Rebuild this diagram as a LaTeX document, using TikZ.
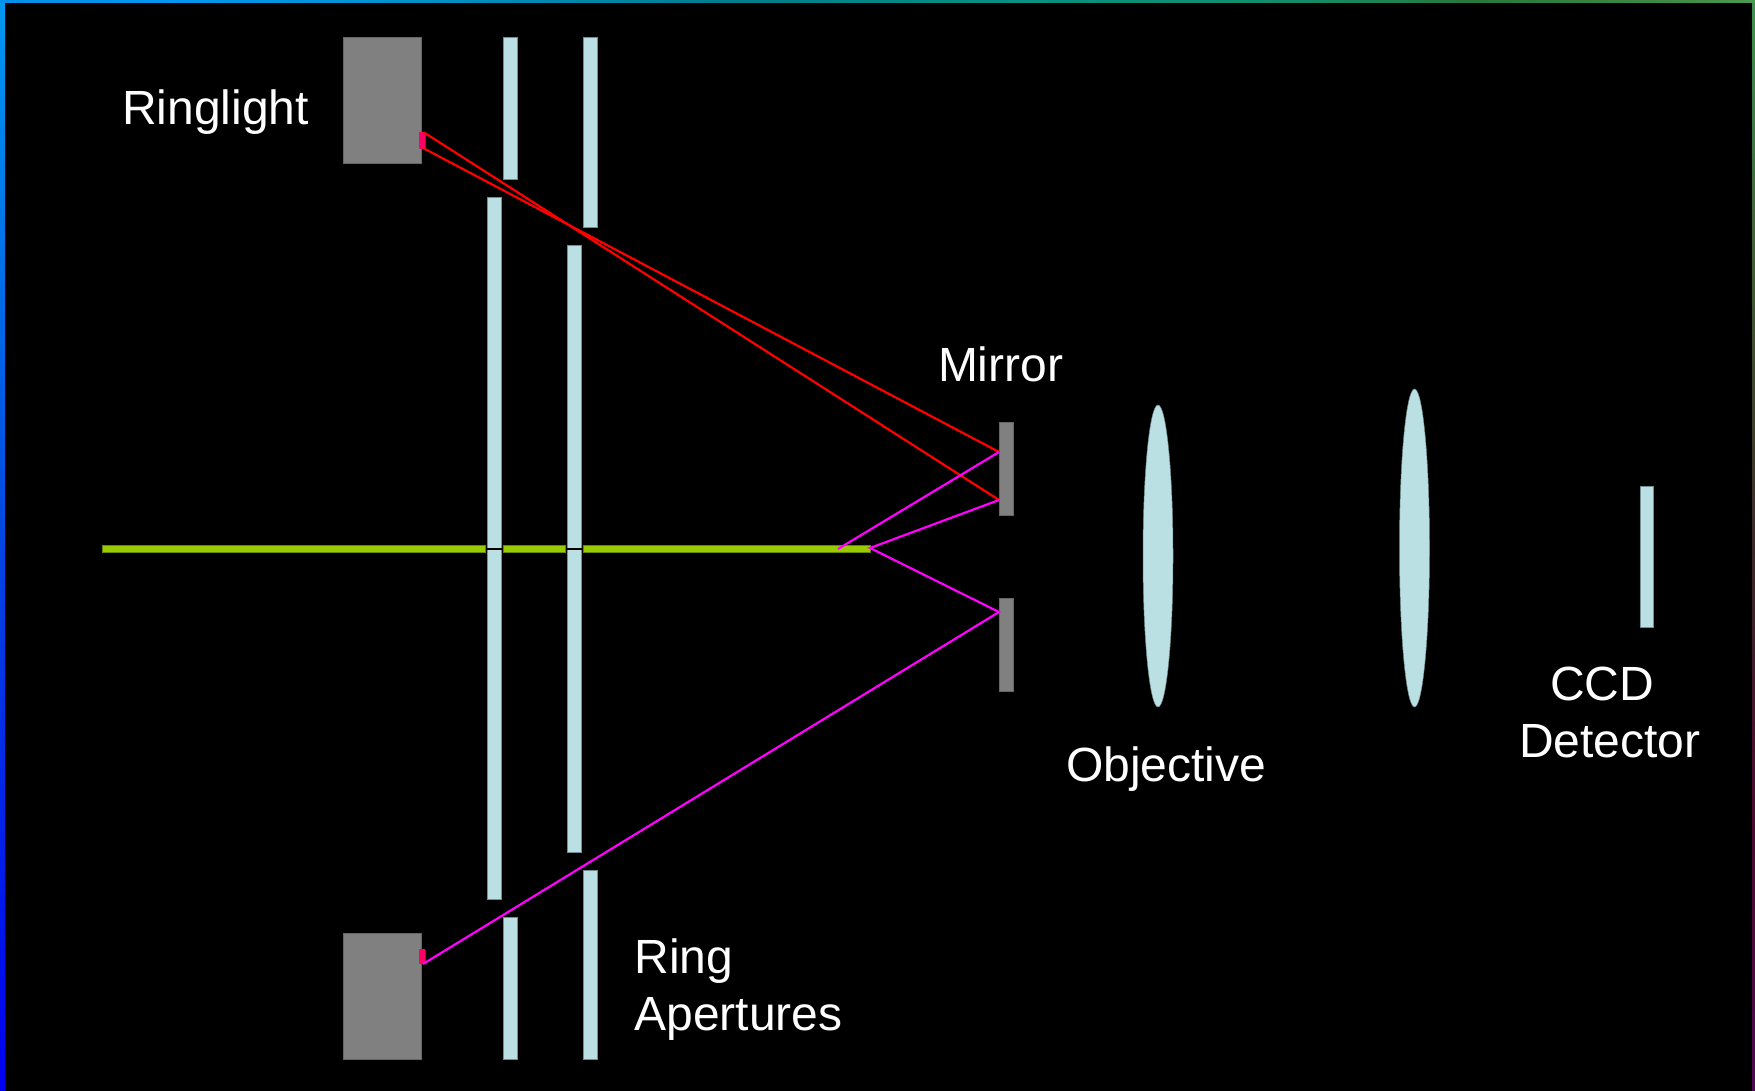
\documentclass[tikz,border=0pt]{standalone}
\usepackage{fontspec}
\setmainfont{Liberation Sans}
\definecolor{barfill}{HTML}{BBE0E3}
\definecolor{baredge}{HTML}{6F8F92}
\definecolor{greyfill}{HTML}{808080}
\definecolor{greyedge}{HTML}{666666}
\definecolor{beamgreen}{HTML}{99CC00}
\definecolor{beamedge}{HTML}{668800}
\definecolor{emitter}{HTML}{FF0066}
\definecolor{raypink}{HTML}{FF00FF}
\definecolor{rayred}{HTML}{FF0000}
\pgfdeclarehorizontalshading{topedge}{100bp}{
 color(0bp)=(rgb,255:red,4;green,143;blue,232);
 color(25bp)=(rgb,255:red,4;green,143;blue,232);
 color(30bp)=(rgb,255:red,0;green,152;blue,240);
 color(37bp)=(rgb,255:red,0;green,144;blue,200);
 color(46bp)=(rgb,255:red,0;green,125;blue,140);
 color(54bp)=(rgb,255:red,10;green,145;blue,130);
 color(62bp)=(rgb,255:red,20;green,140;blue,105);
 color(67bp)=(rgb,255:red,40;green,120;blue,60);
 color(73bp)=(rgb,255:red,65;green,140;blue,70);
 color(75bp)=(rgb,255:red,75;green,155;blue,80);
 color(100bp)=(rgb,255:red,75;green,155;blue,80)}
\pgfdeclareverticalshading{leftedge}{100bp}{
 color(0bp)=(rgb,255:red,0;green,0;blue,240);
 color(25bp)=(rgb,255:red,0;green,0;blue,240);
 color(50bp)=(rgb,255:red,0;green,70;blue,225);
 color(75bp)=(rgb,255:red,0;green,152;blue,240);
 color(100bp)=(rgb,255:red,0;green,152;blue,240)}
\pgfdeclareverticalshading{rightedge}{100bp}{
 color(0bp)=(rgb,255:red,80;green,10;blue,80);
 color(25bp)=(rgb,255:red,80;green,10;blue,80);
 color(37bp)=(rgb,255:red,75;green,10;blue,50);
 color(50bp)=(rgb,255:red,60;green,40;blue,40);
 color(62bp)=(rgb,255:red,65;green,90;blue,48);
 color(75bp)=(rgb,255:red,65;green,145;blue,80);
 color(100bp)=(rgb,255:red,65;green,145;blue,80)}
\tikzset{
  aperture/.style={fill=barfill,draw=baredge,line width=0.8pt},
  housing/.style={fill=greyfill,draw=greyedge,line width=0.8pt},
  beam/.style={fill=beamgreen,draw=beamedge,line width=0.6pt},
  source/.style={fill=emitter,draw=none,rounded corners=0.8pt},
  redray/.style={draw=rayred,line width=2.2pt},
  pinkray/.style={draw=raypink,line width=2.2pt},
  slit/.style={draw=black,line width=2pt},
  label/.style={text=white,font=\fontsize{48}{48}\selectfont,anchor=base west,inner sep=0pt,outer sep=0pt}
}
\begin{document}
\begin{tikzpicture}[x=1pt,y=-1pt]
\useasboundingbox (0,0) rectangle (1755,1091);
\fill[black] (0,0) rectangle (1755,1091);
% window edge
\path[shading=leftedge] (0,0) rectangle (5,1091);
\path[shading=rightedge] (1752,0) rectangle (1755,1091);
\path[shading=topedge] (0,0) rectangle (1755,3);
% ringlight housings
\path[housing] (343,37) rectangle (421,163);
\path[housing] (343,933) rectangle (421,1059);
% ring apertures
\path[aperture] (503,37) rectangle (517,179);
\path[aperture] (583,37) rectangle (597,227);
\path[aperture] (487.5,197) rectangle (501,899);
\path[aperture] (567.5,245) rectangle (581,852);
\path[aperture] (583,870) rectangle (597,1059);
\path[aperture] (503,917) rectangle (517,1059);
% mirror
\path[housing] (999.5,422) rectangle (1013,515);
\path[housing] (999.5,598) rectangle (1013,691);
% lenses and detector
\path[aperture,line width=0.5pt] (1158,556) ellipse [x radius=15,y radius=151];
\path[aperture,line width=0.5pt] (1414.5,548) ellipse [x radius=15,y radius=159];
\path[aperture] (1640,486) rectangle (1653,627);
% central beam
\coordinate (slitA1) at (485,548.5);
\coordinate (slitA2) at (503,548.5);
\coordinate (slitB1) at (566,548.5);
\coordinate (slitB2) at (583,548.5);
\draw[slit] (slitA1) -- (slitA2);
\draw[slit] (slitB1) -- (slitB2);
\path[beam] (102,545) rectangle (485.5,552);
\path[beam] (503.5,545) rectangle (565.5,552);
\path[beam] (583.5,545) rectangle (870,552);
% emitters
\path[source] (419,132) rectangle (425.5,149);
\path[source] (419,949) rectangle (425.5,964);
% ray points
\coordinate (upA) at (424,132.5);
\coordinate (upB) at (424,148.5);
\coordinate (mirA) at (999,452);
\coordinate (mirB) at (999,500);
\coordinate (mirC) at (999,612);
\coordinate (focA) at (838,549);
\coordinate (focB) at (870,548);
\coordinate (low) at (423,964);
% rays
\draw[redray] (upA) -- (mirB);
\draw[redray] (upB) -- (mirA);
\draw[pinkray] (mirA) -- (focA);
\draw[pinkray] (mirB) -- (focB) -- (mirC) -- (low);
% labels
\node[label] (lRing) at (122,125) {Ringlight};
\node[label] (lMirror) at (938,381) {Mirror};
\node[label] (lObj) at (1066,781) {Objective};
\node[label] (lCCD) at (1550,700) {CCD};
\node[label] (lDet) at (1519,757.5) {Detector};
\node[label] (lRA) at (634.5,973) {Ring};
\node[label] (lAp) at (634.5,1030.5) {Apertures};
\end{tikzpicture}
\end{document}
